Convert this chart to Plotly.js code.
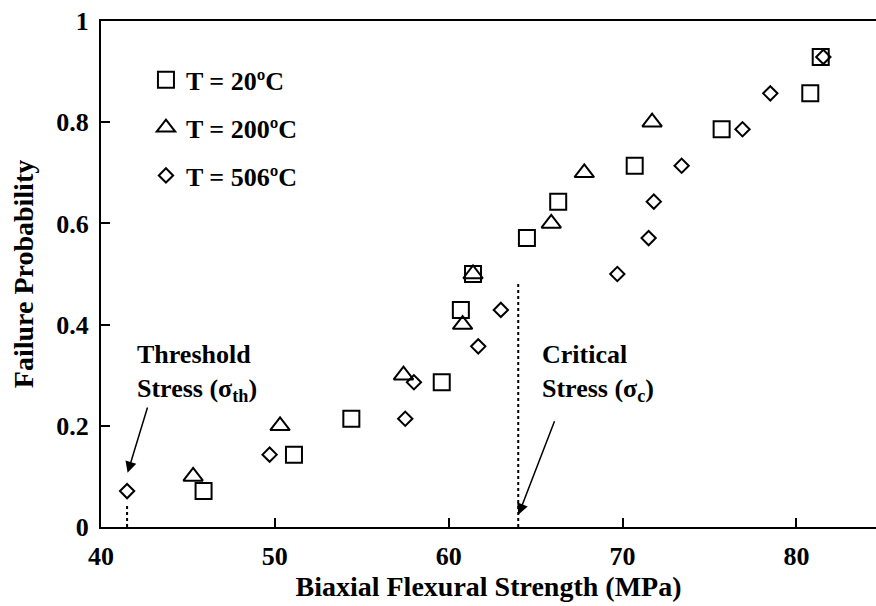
<!DOCTYPE html>
<html>
<head>
<meta charset="utf-8">
<script src="https://cdn.plot.ly/plotly-3.0.1.min.js"></script>
<style>html,body{margin:0;padding:0;background:#fff;}#chart{width:876px;height:606px;}</style>
</head>
<body>
<div id="chart"></div>
<script>
// Data
const seriesNames = ["T = 20ºC", "T = 200ºC", "T = 506ºC"];
const t20_x = [45.9, 51.1, 54.4, 59.6, 60.7, 61.4, 64.5, 66.3, 70.7, 75.7, 80.8, 81.4];
const t20_y = [0.071, 0.143, 0.214, 0.286, 0.429, 0.5, 0.571, 0.643, 0.714, 0.786, 0.857, 0.929];
const t200_x = [45.3, 50.3, 57.4, 60.8, 61.4, 65.9, 67.8, 71.7];
const t200_y = [0.1, 0.2, 0.3, 0.4, 0.5, 0.6, 0.7, 0.8];
const t506_x = [41.5, 49.7, 57.5, 58.0, 61.7, 63.0, 69.7, 71.5, 71.8, 73.4, 76.9, 78.5, 81.55];
const t506_y = [0.071, 0.143, 0.214, 0.286, 0.357, 0.429, 0.5, 0.571, 0.643, 0.714, 0.786, 0.857, 0.929];
const xTicks = [40, 50, 60, 70, 80];
const yTicks = [0, 0.2, 0.4, 0.6, 0.8, 1];
const yTickText = ["0", "0.2", "0.4", "0.6", "0.8", "1"];
const thresholdStress = 41.5;
const criticalStress = 64.0;
const thresholdLineTop = 0.045;
const criticalLineTop = 0.482;

const FONT = "Liberation Serif, Times New Roman, serif";
const fontBold = {family: FONT, size: 26, color: "#000", weight: "bold"};
const titleFont = {family: FONT, size: 28, color: "#000", weight: "bold"};

const traces = [
  {x: t20_x, y: t20_y, name: seriesNames[0], legendgroup: "a", type: "scatter", mode: "markers",
   marker: {symbol: "square-open", size: 16, color: "#000", line: {width: 2, color: "#000"}}},
  {x: t200_x, y: t200_y, name: seriesNames[1], legendgroup: "b", type: "scatter", mode: "markers",
   marker: {symbol: "triangle-up-open", size: 17, color: "#000", line: {width: 2, color: "#000"}}},
  {x: t506_x, y: t506_y, name: seriesNames[2], legendgroup: "c", type: "scatter", mode: "markers",
   marker: {symbol: "diamond-open", size: 11, color: "#000", line: {width: 2, color: "#000"}}}
];

const layout = {
  width: 876, height: 606,
  margin: {l: 101, r: 0, t: 21, b: 79},
  paper_bgcolor: "#fff", plot_bgcolor: "#fff",
  font: fontBold,
  showlegend: true,
  legend: {x: 0.058, y: 0.93, xanchor: "left", yanchor: "top", bgcolor: "rgba(0,0,0,0)",
           borderwidth: 0, font: fontBold, tracegroupgap: 11, itemwidth: 30},
  xaxis: {range: [40, 84.58], tickvals: xTicks, ticktext: xTicks.map(String),
          ticks: "inside", ticklen: 9, tickwidth: 2, tickcolor: "#000",
          showline: true, linewidth: 2, linecolor: "#000", mirror: true,
          showgrid: false, zeroline: false, ticklabelstandoff: 5,
          tickfont: fontBold,
          title: {text: "Biaxial Flexural Strength (MPa)\u00a0\u00a0\u00a0", font: titleFont, standoff: 3}},
  yaxis: {range: [0, 1], tickvals: yTicks, ticktext: yTickText,
          ticks: "inside", ticklen: 9, tickwidth: 2, tickcolor: "#000",
          showline: true, linewidth: 2, linecolor: "#000", mirror: false,
          showgrid: false, zeroline: false, ticklabelstandoff: 5,
          tickfont: fontBold,
          title: {text: "Failure Probability", font: titleFont, standoff: 14}},
  shapes: [
    {type: "line", xref: "x", yref: "y", x0: thresholdStress, x1: thresholdStress, y0: 0, y1: thresholdLineTop,
     line: {color: "#000", width: 2, dash: "dot"}},
    {type: "line", xref: "x", yref: "y", x0: criticalStress, x1: criticalStress, y0: 0, y1: criticalLineTop,
     line: {color: "#000", width: 2, dash: "dot"}}
  ],
  annotations: [
    {xref: "x", yref: "y", x: 41.97, y: 0.305, xanchor: "left", yanchor: "middle", align: "left",
     showarrow: false, font: fontBold, text: "Threshold<br>Stress (σ<sub>th</sub>)"},
    {xref: "x", yref: "y", x: 65.26, y: 0.305, xanchor: "left", yanchor: "middle", align: "left",
     showarrow: false, font: fontBold, text: "Critical<br>Stress (σ<sub>c</sub>)"},
    {xref: "x", yref: "y", axref: "x", ayref: "y", x: 41.53, y: 0.107, ax: 42.70, ay: 0.239,
     text: "", showarrow: true, arrowhead: 2, arrowsize: 1.5, arrowwidth: 1.5, arrowcolor: "#000", standoff: 0},
    {xref: "x", yref: "y", axref: "x", ayref: "y", x: 64.01, y: 0.024, ax: 66.12, ay: 0.212,
     text: "", showarrow: true, arrowhead: 2, arrowsize: 1.5, arrowwidth: 1.5, arrowcolor: "#000", standoff: 0}
  ]
};

Plotly.newPlot("chart", traces, layout, {displayModeBar: false, staticPlot: true});
</script>
</body>
</html>
